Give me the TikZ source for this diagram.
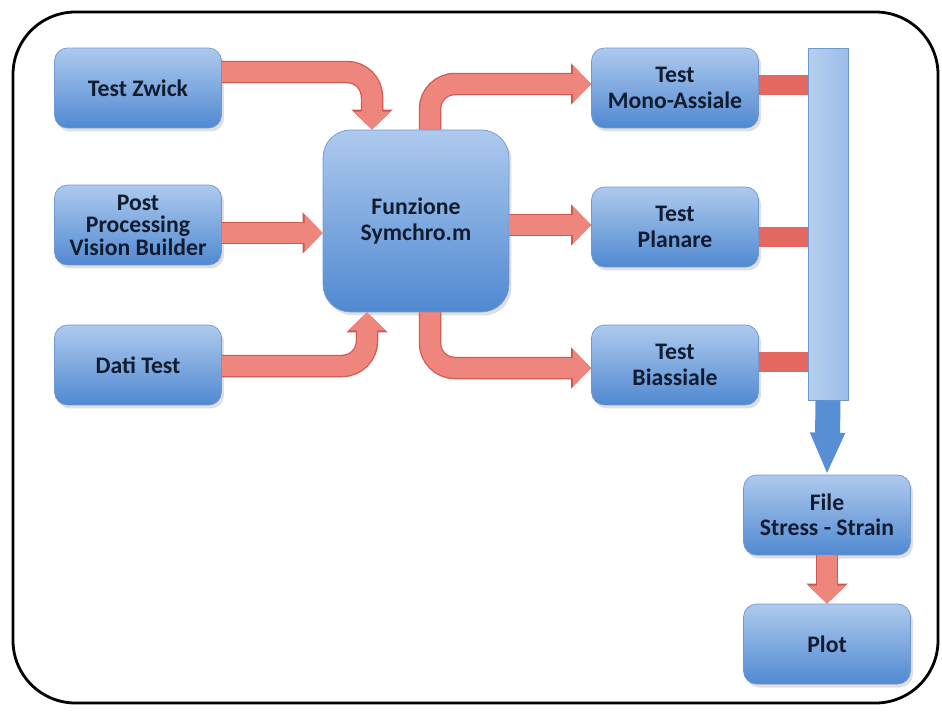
\documentclass[tikz,border=0pt]{standalone}
\usepackage{fontspec}
\setmainfont{Carlito}
\usetikzlibrary{arrows.meta,calc,shadows}
\definecolor{boxtop}{RGB}{174,202,238}
\definecolor{boxbot}{RGB}{80,137,209}
\definecolor{boxline}{RGB}{112,152,206}
\definecolor{arrfill}{RGB}{238,134,126}
\definecolor{arrline}{RGB}{208,88,80}
\definecolor{feedred}{RGB}{228,104,96}
\definecolor{bluearr}{RGB}{88,143,212}
\definecolor{txt}{RGB}{18,28,48}

\begin{document}
\begin{tikzpicture}[x=0.02cm, y=-0.02cm,
    box/.style={rectangle, rounded corners=0.26cm, draw=boxline, top color=boxtop,
      bottom color=boxbot, minimum width=3.34cm, minimum height=1.6cm, inner sep=1pt,
      align=center, text=txt, font=\fontsize{13.5}{14.5}\selectfont\bfseries,
      drop shadow={opacity=0.25, shadow xshift=0.05cm, shadow yshift=-0.07cm}},
    redarrow/.style={draw=arrfill, line width=0.4cm, rounded corners=0.5cm,
      -{Triangle[width=0.72cm,length=0.36cm]},
      preaction={draw=arrline, line width=0.45cm, -{Triangle[width=0.8cm,length=0.4cm]}}},
    feed/.style={draw=feedred, line width=0.4cm},
    bluearrow/.style={draw=bluearr, line width=0.5cm, -{Triangle[width=0.64cm,length=0.84cm]}}]
\useasboundingbox (0,0) rectangle (942,713);
\draw[line width=1.6pt, rounded corners=1.25cm] (13,12) rectangle (938,703);

\node[box] (zwick) at (138,88) {Test Zwick};
\node[box, font=\fontsize{13.5}{12.8}\selectfont\bfseries] (post) at (138,225) {Post\\Processing\\Vision Builder};
\node[box] (dati) at (138,365) {Dati Test};
\node[box, rounded corners=0.55cm, minimum width=3.72cm, minimum height=3.64cm] (symchro) at (416,221) {Funzione\\Symchro.m};
\node[box] (mono) at (675,88) {Test\\Mono-Assiale};
\node[box] (planare) at (675,227) {Test\\Planare};
\node[box] (biass) at (675,365) {Test\\Biassiale};
\node[rectangle, draw=boxline, left color=boxtop!90, right color=boxtop!80!boxbot,
  minimum width=0.8cm, minimum height=7.04cm, inner sep=0pt] (bar) at (828,224) {};
\node[box] (file) at (827,515) {File\\Stress - Strain};
\node[box] (plot) at (827,644) {Plot};

\draw[redarrow] ($(zwick.east)+(0,-16)$) -| ($(symchro.north)+(-44,0)$);
\draw[redarrow] ($(post.east)+(0,8)$) -- ($(post.east -| symchro.west)+(0,8)$);
\draw[redarrow] ($(dati.east)+(0,1)$) -| ($(symchro.south)+(-49,0)$);
\draw[redarrow] ($(symchro.north)+(14,0)$) |- ($(mono.west)+(0,-4)$);
\draw[redarrow] ($(symchro.east)+(0,4)$) -- ($(symchro.east -| planare.west)+(0,4)$);
\draw[redarrow] ($(symchro.south)+(14,0)$) |- ($(biass.west)+(0,3)$);

\draw[feed] ($(mono.east)+(0,-3)$) -- ($(mono.east -| bar.west)+(0,-3)$);
\draw[feed] ($(planare.east)+(0,10)$) -- ($(planare.east -| bar.west)+(0,10)$);
\draw[feed] ($(biass.east)+(0,-3)$) -- ($(biass.east -| bar.west)+(0,-3)$);

\draw[bluearrow] (bar.south) -- (file.north);
\draw[redarrow] (file.south) -- (plot.north);
\end{tikzpicture}
\end{document}
